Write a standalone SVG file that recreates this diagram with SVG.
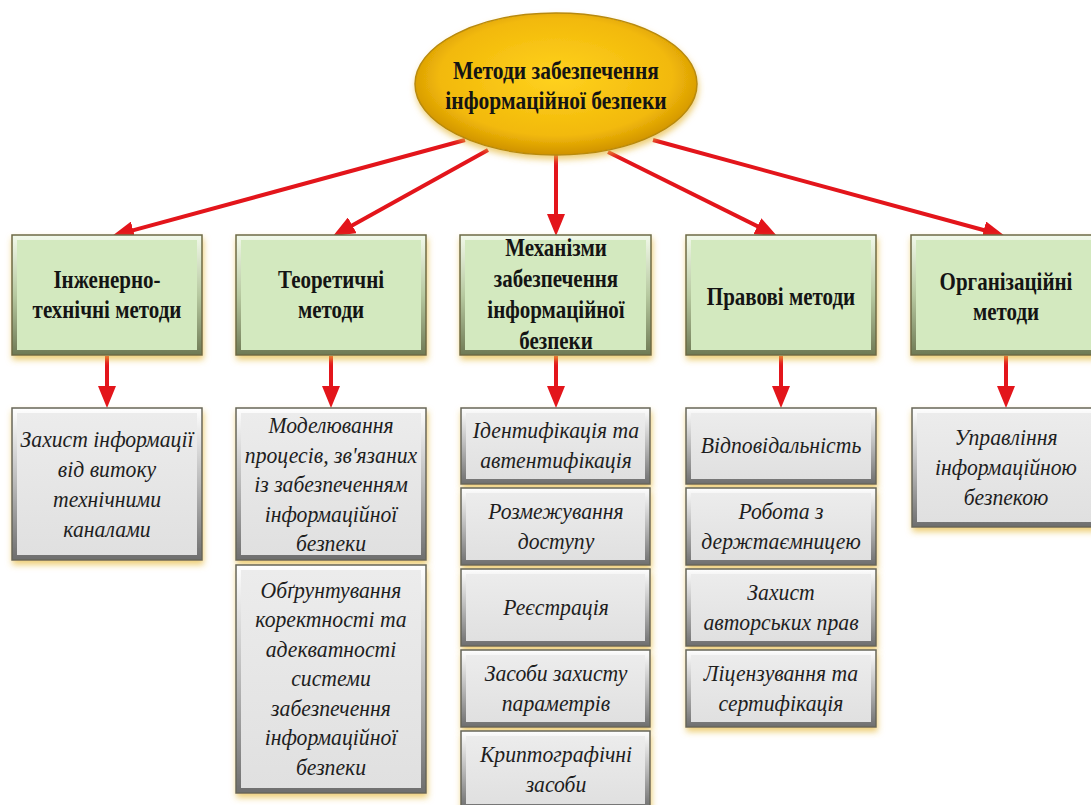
<svg xmlns="http://www.w3.org/2000/svg" width="1091" height="805" viewBox="0 0 1091 805">
<style>
.bt{font-family:"Liberation Serif","Times New Roman",serif;font-weight:bold;font-size:21px;fill:#141414;text-anchor:middle}
.et{font-family:"Liberation Serif","Times New Roman",serif;font-weight:bold;font-size:21.5px;fill:#141414;text-anchor:middle}
.it{font-family:"Liberation Serif","Times New Roman",serif;font-style:italic;font-size:21.7px;fill:#1e1e1e;text-anchor:middle}
.gb{fill:url(#gBev);stroke:#6c6a45;stroke-width:1.5;filter:url(#sh)}
.gi{fill:#d3e9bf}
.yb{fill:url(#yBev);stroke:#66665a;stroke-width:1.5;filter:url(#sh)}
.yi{fill:url(#yIn)}
.ar{stroke:#e3151b;stroke-width:4;fill:none;marker-end:url(#ah)}
</style>
<defs>
<linearGradient id="gBev" x1="0" y1="0" x2="0" y2="1">
<stop offset="0" stop-color="#f2f9ea"/><stop offset="0.5" stop-color="#b7c9a0"/><stop offset="1" stop-color="#6f7a55"/>
</linearGradient>
<linearGradient id="yBev" x1="0" y1="0" x2="0" y2="1">
<stop offset="0" stop-color="#ffffff"/><stop offset="0.5" stop-color="#b9b9b9"/><stop offset="1" stop-color="#6e6e6e"/>
</linearGradient>
<linearGradient id="yIn" x1="0" y1="0" x2="0" y2="1">
<stop offset="0" stop-color="#ececec"/><stop offset="1" stop-color="#e0e0e0"/>
</linearGradient>
<radialGradient id="eg" cx="0.5" cy="0.45" r="0.55">
<stop offset="0" stop-color="#ffd21f"/><stop offset="0.75" stop-color="#f2b90a"/><stop offset="1" stop-color="#cf9200"/>
</radialGradient>
<filter id="sh" x="-10%" y="-10%" width="120%" height="130%">
<feDropShadow dx="1" dy="4" stdDeviation="3" flood-color="#e6b93a" flood-opacity="0.7"/>
</filter>
<marker id="ah" markerUnits="userSpaceOnUse" markerWidth="24" markerHeight="18" viewBox="0 0 24 18" refX="10" refY="9" orient="auto">
<path d="M0,0 L22,9 L0,18 z" fill="#e3151b"/>
</marker>
</defs>
<rect width="1091" height="805" fill="#ffffff"/>

<g id="connectors">
<line class="ar" x1="465" y1="140" x2="123.6" y2="232.9"/>
<line class="ar" x1="488" y1="150" x2="343.5" y2="230.2"/>
<line class="ar" x1="556" y1="150" x2="556" y2="224"/>
<line class="ar" x1="608" y1="152" x2="766.3" y2="230.7"/>
<line class="ar" x1="653" y1="140" x2="993.4" y2="232.8"/>
<line class="ar" x1="107" y1="356" x2="107" y2="396"/>
<line class="ar" x1="331" y1="356" x2="331" y2="396"/>
<line class="ar" x1="556" y1="356" x2="556" y2="396"/>
<line class="ar" x1="781" y1="356" x2="781" y2="396"/>
<line class="ar" x1="1006" y1="356" x2="1006" y2="396"/>
</g>

<g id="root">
<ellipse cx="556" cy="84" rx="141" ry="71" fill="url(#eg)" stroke="#b88a0c" stroke-width="1.5" filter="url(#sh)"/>
<text class="et" transform="translate(556,79) scale(1,1.18)">Методи забезпечення</text>
<text class="et" transform="translate(556,109) scale(1,1.18)">інформаційної безпеки</text>
</g>

<g id="n-eng">
<rect class="gb" x="12" y="235" width="190" height="120"/><rect class="gi" x="17" y="240" width="180" height="110"/>
<text class="bt" transform="translate(107,288) scale(1,1.15)">Інженерно-</text>
<text class="bt" transform="translate(107,318) scale(1,1.15)">технічні методи</text>
</g>
<g id="n-theor">
<rect class="gb" x="236" y="235" width="190" height="120"/><rect class="gi" x="241" y="240" width="180" height="110"/>
<text class="bt" transform="translate(331,288) scale(1,1.15)">Теоретичні</text>
<text class="bt" transform="translate(331,318) scale(1,1.15)">методи</text>
</g>
<g id="n-mech">
<rect class="gb" x="460" y="235" width="191" height="120"/><rect class="gi" x="465" y="240" width="181" height="110"/>
<text class="bt" transform="translate(556,256) scale(1,1.15)">Механізми</text>
<text class="bt" transform="translate(556,287) scale(1,1.15)">забезпечення</text>
<text class="bt" transform="translate(556,318) scale(1,1.15)">інформаційної</text>
<text class="bt" transform="translate(556,349) scale(1,1.15)">безпеки</text>
</g>
<g id="n-legal">
<rect class="gb" x="686" y="235" width="190" height="120"/><rect class="gi" x="691" y="240" width="180" height="110"/>
<text class="bt" transform="translate(781,305) scale(1,1.15)">Правові методи</text>
</g>
<g id="n-org">
<rect class="gb" x="911" y="235" width="190" height="120"/><rect class="gi" x="916" y="240" width="180" height="110"/>
<text class="bt" transform="translate(1006,290) scale(1,1.15)">Організаційні</text>
<text class="bt" transform="translate(1006,320) scale(1,1.15)">методи</text>
</g>

<g id="c1">
<rect class="yb" x="12" y="408" width="190" height="152"/><rect class="yi" x="17" y="413" width="180" height="142"/>
<text class="it" transform="translate(107,447) scale(1,1.08)">Захист інформації</text>
<text class="it" transform="translate(107,477) scale(1,1.08)">від витоку</text>
<text class="it" transform="translate(107,507) scale(1,1.08)">технічними</text>
<text class="it" transform="translate(107,537) scale(1,1.08)">каналами</text>
</g>
<g id="c2a">
<rect class="yb" x="236" y="408" width="190" height="152"/><rect class="yi" x="241" y="413" width="180" height="142"/>
<text class="it" transform="translate(331,433) scale(1,1.08)">Моделювання</text>
<text class="it" transform="translate(331,463) scale(1,1.08)">процесів, зв'язаних</text>
<text class="it" transform="translate(331,492) scale(1,1.08)">із забезпеченням</text>
<text class="it" transform="translate(331,522) scale(1,1.08)">інформаційної</text>
<text class="it" transform="translate(331,551) scale(1,1.08)">безпеки</text>
</g>
<g id="c2b">
<rect class="yb" x="236" y="565" width="190" height="228"/><rect class="yi" x="241" y="570" width="180" height="218"/>
<text class="it" transform="translate(331,598) scale(1,1.08)">Обґрунтування</text>
<text class="it" transform="translate(331,627) scale(1,1.08)">коректності та</text>
<text class="it" transform="translate(331,657) scale(1,1.08)">адекватності</text>
<text class="it" transform="translate(331,686) scale(1,1.08)">системи</text>
<text class="it" transform="translate(331,716) scale(1,1.08)">забезпечення</text>
<text class="it" transform="translate(331,745) scale(1,1.08)">інформаційної</text>
<text class="it" transform="translate(331,775) scale(1,1.08)">безпеки</text>
</g>
<g id="c3a">
<rect class="yb" x="461" y="408" width="189" height="76"/><rect class="yi" x="466" y="413" width="179" height="66"/>
<text class="it" transform="translate(556,438) scale(1,1.08)">Ідентифікація та</text>
<text class="it" transform="translate(556,468) scale(1,1.08)">автентифікація</text>
</g>
<g id="c3b">
<rect class="yb" x="461" y="488" width="189" height="77"/><rect class="yi" x="466" y="493" width="179" height="67"/>
<text class="it" transform="translate(556,519) scale(1,1.08)">Розмежування</text>
<text class="it" transform="translate(556,549) scale(1,1.08)">доступу</text>
</g>
<g id="c3c">
<rect class="yb" x="461" y="569" width="189" height="77"/><rect class="yi" x="466" y="574" width="179" height="67"/>
<text class="it" transform="translate(556,615) scale(1,1.08)">Реєстрація</text>
</g>
<g id="c3d">
<rect class="yb" x="461" y="650" width="189" height="77"/><rect class="yi" x="466" y="655" width="179" height="67"/>
<text class="it" transform="translate(556,681) scale(1,1.08)">Засоби захисту</text>
<text class="it" transform="translate(556,711) scale(1,1.08)">параметрів</text>
</g>
<g id="c3e">
<rect class="yb" x="461" y="731" width="189" height="78"/><rect class="yi" x="466" y="736" width="179" height="68"/>
<text class="it" transform="translate(556,762) scale(1,1.08)">Криптографічні</text>
<text class="it" transform="translate(556,792) scale(1,1.08)">засоби</text>
</g>
<g id="c4a">
<rect class="yb" x="686" y="408" width="190" height="76"/><rect class="yi" x="691" y="413" width="180" height="66"/>
<text class="it" transform="translate(781,453) scale(1,1.08)">Відповідальність</text>
</g>
<g id="c4b">
<rect class="yb" x="686" y="488" width="190" height="77"/><rect class="yi" x="691" y="493" width="180" height="67"/>
<text class="it" transform="translate(781,519) scale(1,1.08)">Робота з</text>
<text class="it" transform="translate(781,549) scale(1,1.08)">держтаємницею</text>
</g>
<g id="c4c">
<rect class="yb" x="686" y="569" width="190" height="77"/><rect class="yi" x="691" y="574" width="180" height="67"/>
<text class="it" transform="translate(781,600) scale(1,1.08)">Захист</text>
<text class="it" transform="translate(781,630) scale(1,1.08)">авторських прав</text>
</g>
<g id="c4d">
<rect class="yb" x="686" y="650" width="190" height="77"/><rect class="yi" x="691" y="655" width="180" height="67"/>
<text class="it" transform="translate(781,681) scale(1,1.08)">Ліцензування та</text>
<text class="it" transform="translate(781,711) scale(1,1.08)">сертифікація</text>
</g>
<g id="c5">
<rect class="yb" x="912" y="408" width="190" height="119"/><rect class="yi" x="917" y="413" width="180" height="109"/>
<text class="it" transform="translate(1006,445) scale(1,1.08)">Управління</text>
<text class="it" transform="translate(1006,475) scale(1,1.08)">інформаційною</text>
<text class="it" transform="translate(1006,505) scale(1,1.08)">безпекою</text>
</g>
</svg>
